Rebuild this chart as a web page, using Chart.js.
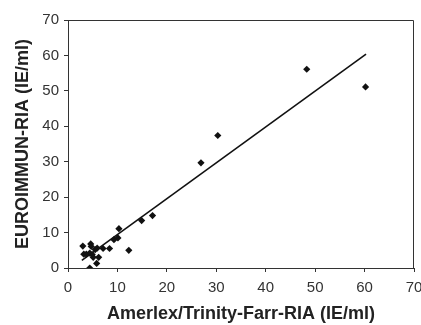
<!DOCTYPE html>
<html>
<head>
<meta charset="utf-8">
<script src="https://cdn.jsdelivr.net/npm/chart.js@4"></script>
<style>
  html, body { margin: 0; padding: 0; background: #fff; }
  #wrap { width: 421px; height: 325px; }
</style>
</head>
<body>
<div id="wrap"><canvas id="chart" width="421" height="325"></canvas></div>
<script>
// Amerlex/Trinity-Farr-RIA vs EUROIMMUN-RIA (IE/ml)
const farrValues = [3.0, 3.2, 3.7, 4.4, 4.6, 4.7, 4.9, 5.1, 4.4, 5.5, 5.9, 5.8, 6.2, 7.1, 8.4, 9.3, 10.1, 10.3, 12.3, 14.9, 17.1, 26.9, 30.3, 48.3, 60.2]
const euroValues = [6.2, 3.9, 3.9, 4.2, 6.8, 6.1, 3.8, 3.0, 0.0, 5.2, 5.6, 1.3, 3.0, 5.5, 5.5, 8.0, 8.5, 11.1, 5.0, 13.4, 14.8, 29.7, 37.4, 56.1, 51.1]

// regression line y = slope * x + intercept, drawn over this x range
const trendSlope = 1.0125
const trendIntercept = -0.7
const trendRange = [2.8, 60.3]

const xTicks = [0, 10, 20, 30, 40, 50, 60, 70]
const yTicks = [0, 10, 20, 30, 40, 50, 60, 70]

const points = farrValues.map((x, i) => ({ x: x, y: euroValues[i] }))
const trendPoints = trendRange.map(x => ({ x: x, y: trendSlope * x + trendIntercept }))

const font = "'Liberation Sans', Arial, sans-serif"
const ink = '#333'

const plotBorder = {
  id: 'plotBorder',
  afterDraw(chart) {
    const a = chart.chartArea
    const ctx = chart.ctx
    ctx.save()
    ctx.strokeStyle = ink
    ctx.lineWidth = 1
    ctx.beginPath()
    ctx.moveTo(a.left, a.top + 0.5)
    ctx.lineTo(a.right - 0.5, a.top + 0.5)
    ctx.lineTo(a.right - 0.5, a.bottom)
    ctx.stroke()
    ctx.restore()
  }
}

new Chart(document.getElementById('chart'), {
  type: 'scatter',
  data: {
    datasets: [{
      data: points,
      pointStyle: 'rectRot',
      pointRadius: 3.6,
      pointBackgroundColor: '#111',
      pointBorderColor: '#111',
      pointBorderWidth: 0,
      showLine: false,
      order: 1
    }, {
      data: trendPoints,
      showLine: true,
      pointRadius: 0,
      borderColor: '#111',
      borderWidth: 1.6,
      fill: false,
      order: 2
    }]
  },
  options: {
    responsive: false,
    animation: false,
    layout: { padding: { top: 20, right: 7, left: 0, bottom: 0 } },
    plugins: {
      legend: { display: false },
      tooltip: { enabled: false }
    },
    scales: {
      x: {
        type: 'linear',
        min: 0,
        max: 70,
        afterBuildTicks: scale => { scale.ticks = xTicks.map(v => ({ value: v })) },
        afterFit: scale => {
          scale.height = 57
          scale.paddingLeft = 0
          scale.paddingRight = 0
        },
        border: { color: ink, width: 1 },
        grid: { drawOnChartArea: false, tickLength: 4, color: ink },
        ticks: { color: ink, padding: 7, font: { family: font, size: 15 }, maxRotation: 0 },
        title: {
          display: true,
          text: 'Amerlex/Trinity-Farr-RIA (IE/ml)',
          color: '#222',
          font: { family: font, size: 18, weight: 'bold' },
          padding: { top: 0, bottom: 0 }
        }
      },
      y: {
        type: 'linear',
        min: 0,
        max: 70,
        afterBuildTicks: scale => { scale.ticks = yTicks.map(v => ({ value: v })) },
        afterFit: scale => {
          scale.width = 68
          scale.paddingTop = 0
          scale.paddingBottom = 0
        },
        border: { color: ink, width: 1 },
        grid: { drawOnChartArea: false, tickLength: 4, color: ink },
        ticks: { color: ink, padding: 5, font: { family: font, size: 15 } },
        title: {
          display: true,
          text: 'EUROIMMUN-RIA (IE/ml)',
          color: '#222',
          font: { family: font, size: 18, weight: 'bold' },
          padding: { top: 12, bottom: 0 }
        }
      }
    }
  },
  plugins: [plotBorder]
})
</script>
</body>
</html>
